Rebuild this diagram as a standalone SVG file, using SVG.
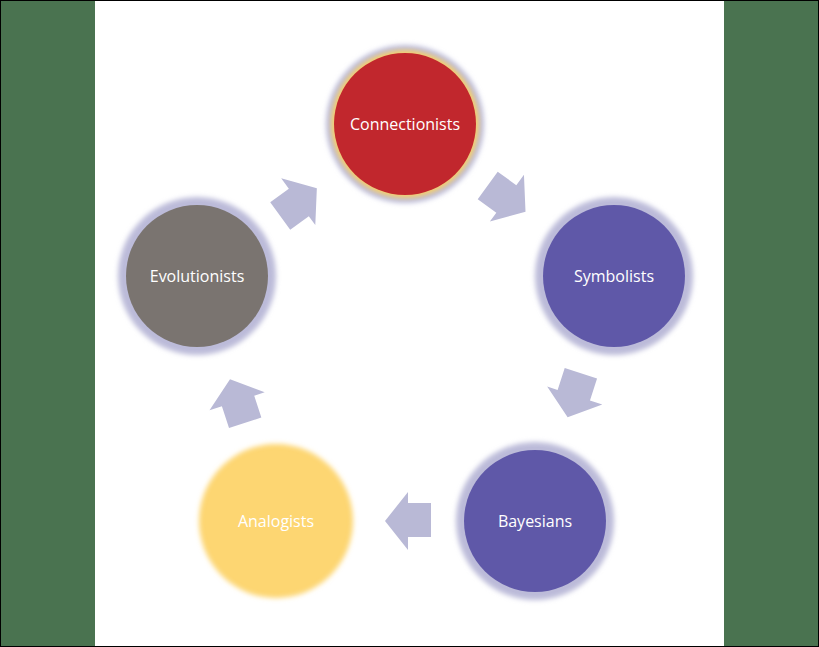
<svg xmlns="http://www.w3.org/2000/svg" width="819" height="647" viewBox="0 0 819 647">
  <defs>
    <filter id="soft" x="-30%" y="-30%" width="160%" height="160%">
      <feGaussianBlur stdDeviation="2.5"/>
    </filter>
    <polygon id="arrow" points="385,521 408,492 408,503 431,503 431,537 408,537 408,550"/>
  </defs>
  <style>
    .halo { fill: #BCBBD9; filter: url(#soft); }
    .halo-y { fill: #FDD672; filter: url(#soft); }
    .label { font-family: "Open Sans", "Liberation Sans", sans-serif; font-size: 16px; fill: #FFFFFF; text-anchor: middle; }
    .arrow { fill: #B9B9D6; }
  </style>

  <!-- background panels -->
  <rect x="0" y="0" width="819" height="647" fill="#000000"/>
  <rect x="1" y="1" width="94" height="645" fill="#4A7350"/>
  <rect x="95" y="1" width="629" height="645" fill="#FFFFFF"/>
  <rect x="724" y="1" width="94" height="645" fill="#4A7350"/>

  <!-- cycle arrows: one shape rotated about the ring centre -->
  <g id="connectors" class="arrow">
    <use href="#arrow"/>
    <use href="#arrow" transform="rotate(72 405 343.5)"/>
    <use href="#arrow" transform="rotate(144 405 343.5)"/>
    <use href="#arrow" transform="rotate(216 405 343.5)"/>
    <use href="#arrow" transform="rotate(288 405 343.5)"/>
  </g>

  <g id="connectionists">
    <circle class="halo" cx="405" cy="124" r="79"/>
    <circle cx="405" cy="124" r="74" fill="#F6CF6A" filter="url(#soft)"/>
    <circle cx="405" cy="124" r="71" fill="#C1272D"/>
    <text class="label" x="405" y="130">Connectionists</text>
  </g>

  <g id="symbolists">
    <circle class="halo" cx="614" cy="276" r="79"/>
    <circle cx="614" cy="276" r="74" fill="#BCBBD9"/>
    <circle cx="614" cy="276" r="71" fill="#5F58A8"/>
    <text class="label" x="614" y="282">Symbolists</text>
  </g>

  <g id="bayesians">
    <circle class="halo" cx="535" cy="521" r="79"/>
    <circle cx="535" cy="521" r="74" fill="#BCBBD9"/>
    <circle cx="535" cy="521" r="71" fill="#5F58A8"/>
    <text class="label" x="535" y="527">Bayesians</text>
  </g>

  <g id="analogists">
    <circle class="halo-y" cx="276" cy="521" r="77"/>
    <circle cx="276" cy="521" r="71" fill="#FDD672"/>
    <text class="label" x="276" y="527">Analogists</text>
  </g>

  <g id="evolutionists">
    <circle class="halo" cx="197" cy="276" r="79"/>
    <circle cx="197" cy="276" r="74" fill="#BCBBD9"/>
    <circle cx="197" cy="276" r="71" fill="#7A7470"/>
    <text class="label" x="197" y="282">Evolutionists</text>
  </g>
</svg>
